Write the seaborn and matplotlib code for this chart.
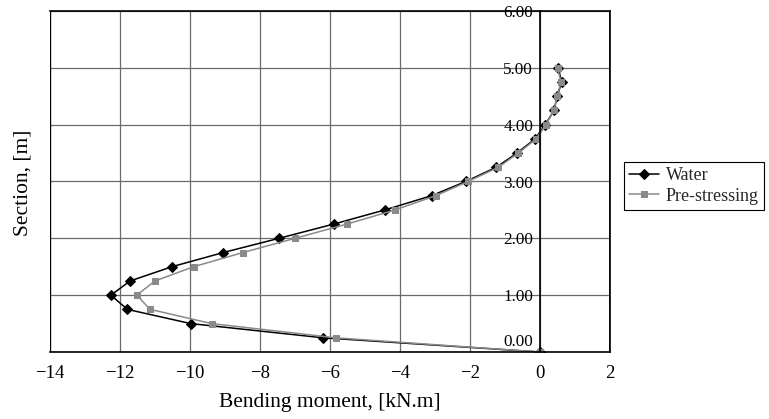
import matplotlib
matplotlib.use("Agg")
import matplotlib.pyplot as plt
import matplotlib.transforms as mtransforms
import numpy as np
import pandas as pd
import seaborn as sns

# Section heights along the wall [m]
section = [0.0, 0.25, 0.5, 0.75, 1.0, 1.25, 1.5, 1.75, 2.0, 2.25, 2.5,
           2.75, 3.0, 3.25, 3.5, 3.75, 4.0, 4.25, 4.5, 4.75, 5.0]

# Bending moment for each load case [kN.m]
water = [0.0, -6.2, -9.98, -11.79, -12.26, -11.71, -10.52, -9.05, -7.46, -5.9, -4.43,
         -3.1, -2.12, -1.25, -0.66, -0.14, 0.15, 0.4, 0.49, 0.62, 0.52]
prestress = [0.0, -5.84, -9.38, -11.14, -11.52, -11.0, -9.9, -8.49, -7.0, -5.52, -4.14,
             -2.98, -2.06, -1.19, -0.62, -0.11, 0.17, 0.4, 0.49, 0.6, 0.5]

series_names = ["Water", "Pre-stressing"]
x_ticks = [-14, -12, -10, -8, -6, -4, -2, 0, 2]
y_ticks = [0, 1, 2, 3, 4, 5, 6]
y_tick_labels = ["0.00", "1.00", "2.00", "3.00", "4.00", "5.00", "6.00"]

df = pd.DataFrame({
    "moment": water + prestress,
    "section": section + section,
    "case": [series_names[0]] * len(section) + [series_names[1]] * len(section),
})

sns.set_theme(style="white")
plt.rcParams["font.family"] = ["Liberation Serif", "DejaVu Serif"]

fig = plt.figure(figsize=(7.69, 4.19), dpi=100)
W, H = 769, 419
ax = fig.add_axes([50 / W, (H - 352) / H, (610 - 50) / W, (352 - 11) / H])

sns.lineplot(
    data=df, x="moment", y="section", hue="case", style="case",
    orient="y", sort=False, estimator=None,
    palette={"Water": "black", "Pre-stressing": "#8a8a8a"},
    markers={"Water": "D", "Pre-stressing": "s"},
    dashes=False, linewidth=1.1, markersize=4.8,
    ax=ax, legend=True,
)
for line in ax.get_lines():
    line.set_markeredgecolor(line.get_color())

ax.set_xlim(-14, 2)
ax.set_ylim(0, 6)
ax.set_xticks(x_ticks)
ax.set_xticklabels([f"{t}".replace("-", "\u2212") for t in x_ticks])
ax.set_yticks(y_ticks)
ax.set_yticklabels(y_tick_labels)

ax.grid(True, color="#6a6a6a", linewidth=0.9)
ax.set_axisbelow(True)

# y-axis crosses at zero moment; frame drawn around the plot area
ax.spines["left"].set_position(("data", 0))
for s in ["top", "right", "bottom", "left"]:
    ax.spines[s].set_color("black")
    ax.spines[s].set_linewidth(1.2)
ax.axvline(-14, color="black", linewidth=1.6, zorder=5)
ax.axvline(2, color="black", linewidth=1.2, zorder=5)

ax.tick_params(axis="y", direction="out", length=4, width=1, colors="black",
               labelsize=12.3, pad=1)
ax.tick_params(axis="x", direction="out", length=3, width=1, colors="black",
               labelsize=13.5, pad=6)

# lift the 0.00 label clear of the bottom axis
lbl0 = ax.get_yticklabels()[0]
lbl0.set_transform(lbl0.get_transform() +
                   mtransforms.ScaledTranslation(0, 9 / 72, fig.dpi_scale_trans))

ax.set_xlabel("Bending moment, [kN.m]", fontsize=15.5, color="black", labelpad=8)
ax.set_ylabel("")
fig.text(23 / W, 1 - 183 / H, "Section, [m]", rotation=90, fontsize=15.5,
         ha="center", va="center", color="black")

handles, labels = ax.get_legend_handles_labels()
ax.legend(handles, labels, loc="center left",
          bbox_to_anchor=(624 / W, 1 - 186 / H), bbox_transform=fig.transFigure,
          frameon=True, fancybox=False, edgecolor="black", framealpha=1,
          fontsize=13, handlelength=1.65, handletextpad=0.37, borderpad=0.3,
          borderaxespad=0, labelspacing=0.2)
ax.get_legend().get_frame().set_linewidth(0.8)

fig.savefig("out.png", dpi=100, facecolor="white")
